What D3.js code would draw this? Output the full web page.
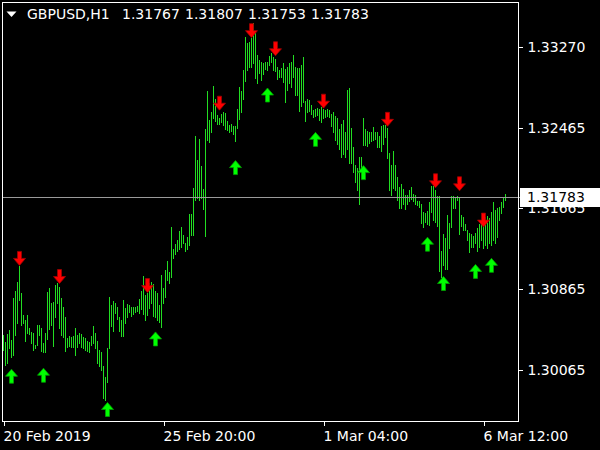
<!DOCTYPE html>
<html><head><meta charset="utf-8">
<script src="https://cdn.jsdelivr.net/npm/d3@7"></script>
<style>html,body{margin:0;padding:0;background:#000;overflow:hidden}</style>
</head><body><svg id="c" width="600" height="450"></svg>
<script>
const symbol = "GBPUSD,H1";
const quote = ["1.31767", "1.31807", "1.31753", "1.31783"];
const lastPrice = 1.31783;
const priceTicks = [1.33270, 1.32465, 1.31665, 1.30865, 1.30065];
const timeTickIdx = [0, 80, 160, 240];
const timeLabels = ["20 Feb 2019", "25 Feb 20:00", "1 Mar 04:00", "6 Mar 12:00"];

const highs = [
1.3041,1.3034,1.3042,1.3046,1.3036,1.3078,1.3085,1.3094,1.3109,1.3083,
1.3061,1.3056,1.3061,1.3048,1.3044,1.3043,1.3031,1.3051,1.3051,1.3048,
1.3033,1.3043,1.3084,1.3088,1.3073,1.3074,1.3091,1.3093,1.3089,1.3078,
1.3069,1.3059,1.3038,1.3040,1.3039,1.3040,1.3048,1.3041,1.3043,1.3042,
1.3039,1.3038,1.3035,1.3034,1.3040,1.3050,1.3043,1.3035,1.3026,1.3024,
1.3010,1.2999,1.3028,1.3079,1.3071,1.3075,1.3073,1.3069,1.3059,1.3056,
1.3076,1.3068,1.3072,1.3071,1.3069,1.3069,1.3069,1.3070,1.3077,1.3085,
1.3099,1.3081,1.3083,1.3093,1.3094,1.3092,1.3085,1.3083,1.3071,1.3100,
1.3088,1.3105,1.3114,1.3103,1.3148,1.3126,1.3131,1.3135,1.3144,1.3148,
1.3140,1.3132,1.3138,1.3161,1.3161,1.3187,1.3238,1.3215,1.3235,1.3209,
1.3186,1.3245,1.3283,1.3254,1.3262,1.3288,1.3275,1.3259,1.3256,1.3260,
1.3262,1.3261,1.3253,1.3249,1.3250,1.3248,1.3248,1.3265,1.3287,1.3283,
1.3304,1.3337,1.3331,1.3332,1.3336,1.3351,1.3341,1.3319,1.3314,1.3312,
1.3311,1.3312,1.3312,1.3318,1.3321,1.3317,1.3315,1.3307,1.3304,1.3306,
1.3311,1.3305,1.3307,1.3311,1.3312,1.3319,1.3307,1.3306,1.3306,1.3309,
1.3317,1.3273,1.3275,1.3274,1.3269,1.3264,1.3265,1.3266,1.3265,1.3267,
1.3265,1.3264,1.3265,1.3264,1.3260,1.3262,1.3258,1.3256,1.3245,1.3250,
1.3254,1.3242,1.3284,1.3286,1.3246,1.3227,1.3210,1.3207,1.3218,1.3218,
1.3256,1.3245,1.3243,1.3242,1.3242,1.3247,1.3242,1.3242,1.3238,1.3248,
1.3249,1.3249,1.3246,1.3222,1.3210,1.3224,1.3210,1.3198,1.3188,1.3191,
1.3186,1.3180,1.3180,1.3185,1.3188,1.3181,1.3180,1.3174,1.3174,1.3171,
1.3163,1.3162,1.3164,1.3173,1.3189,1.3189,1.3185,1.3179,1.3179,1.3124,
1.3141,1.3137,1.3160,1.3152,1.3179,1.3179,1.3178,1.3179,1.3177,1.3160,
1.3158,1.3151,1.3145,1.3142,1.3141,1.3139,1.3142,1.3147,1.3151,1.3153,
1.3154,1.3158,1.3159,1.3157,1.3163,1.3173,1.3165,1.3167,1.3168,1.3173,
1.3178,1.31807];

const lows = [
1.3026,1.3011,1.3013,1.3028,1.3019,1.3021,1.3041,1.3053,1.3076,1.3051,
1.3053,1.3035,1.3043,1.3042,1.3033,1.3026,1.3028,1.3031,1.3041,1.3025,
1.3024,1.3024,1.3037,1.3047,1.3051,1.3030,1.3059,1.3073,1.3048,1.3041,
1.3039,1.3025,1.3029,1.3030,1.3029,1.3029,1.3021,1.3029,1.3033,1.3029,
1.3028,1.3026,1.3025,1.3024,1.3031,1.3033,1.3028,1.3013,1.3010,1.3006,
1.2978,1.2976,1.2994,1.3028,1.3050,1.3045,1.3063,1.3057,1.3045,1.3040,
1.3040,1.3053,1.3059,1.3064,1.3060,1.3062,1.3064,1.3065,1.3063,1.3067,
1.3062,1.3056,1.3061,1.3068,1.3073,1.3060,1.3059,1.3056,1.3054,1.3049,
1.3073,1.3079,1.3096,1.3093,1.3098,1.3117,1.3121,1.3124,1.3126,1.3128,
1.3132,1.3124,1.3126,1.3130,1.3140,1.3140,1.3175,1.3177,1.3175,1.3177,
1.3166,1.3139,1.3234,1.3232,1.3242,1.3256,1.3253,1.3250,1.3250,1.3252,
1.3249,1.3245,1.3244,1.3242,1.3243,1.3240,1.3233,1.3246,1.3255,1.3262,
1.3275,1.3293,1.3304,1.3307,1.3307,1.3311,1.3296,1.3291,1.3301,1.3294,
1.3300,1.3305,1.3304,1.3309,1.3312,1.3304,1.3303,1.3295,1.3297,1.3297,
1.3292,1.3272,1.3284,1.3291,1.3287,1.3297,1.3279,1.3279,1.3263,1.3268,
1.3272,1.3253,1.3262,1.3263,1.3260,1.3257,1.3258,1.3259,1.3254,1.3252,
1.3256,1.3257,1.3258,1.3257,1.3248,1.3242,1.3234,1.3230,1.3225,1.3218,
1.3221,1.3218,1.3225,1.3212,1.3212,1.3203,1.3193,1.3185,1.3171,1.3197,
1.3229,1.3229,1.3228,1.3231,1.3233,1.3234,1.3235,1.3227,1.3227,1.3224,
1.3230,1.3237,1.3217,1.3185,1.3180,1.3187,1.3185,1.3175,1.3167,1.3167,
1.3171,1.3166,1.3171,1.3174,1.3176,1.3174,1.3171,1.3170,1.3168,1.3152,
1.3148,1.3153,1.3151,1.3150,1.3163,1.3155,1.3153,1.3149,1.3104,1.3098,
1.3110,1.3106,1.3106,1.3127,1.3148,1.3167,1.3167,1.3175,1.3141,1.3149,
1.3145,1.3145,1.3135,1.3123,1.3128,1.3128,1.3132,1.3124,1.3128,1.3135,
1.3127,1.3130,1.3127,1.3132,1.3130,1.3135,1.3132,1.3138,1.3155,1.3162,
1.3168,1.31753];

const upIdx   = [4, 20, 52, 76, 116, 132, 156, 180, 212, 220, 236, 244];
const upPrice = [1.3007, 1.3008, 1.2974, 1.3044, 1.3214, 1.3286, 1.3242, 1.3209, 1.3138, 1.3099, 1.3111, 1.3117];
const downIdx   = [8, 28, 72, 108, 124, 136, 160, 192, 216, 228, 240];
const downPrice = [1.3110, 1.3092, 1.3083, 1.3264, 1.3336, 1.3318, 1.3266, 1.3248, 1.3187, 1.3184, 1.3148];

const W = 600, H = 450;
const frame = {l: 2.5, t: 2.5, r: 518.5, b: 421.5};
const FONT = "'DejaVu Sans', sans-serif";
const svg = d3.select("#c");
svg.append("rect").attr("width", W).attr("height", H).attr("fill", "#000");

const x = d3.scaleLinear().domain([0, highs.length - 1]).range([3.5, 3.5 + 2 * (highs.length - 1)]);
const y = d3.scaleLinear().domain([1.30065, 1.33270]).range([369.7, 46.7]);

// bars
svg.append("g").attr("shape-rendering", "crispEdges")
  .selectAll("line").data(highs).join("line")
  .attr("x1", (d, i) => x(i)).attr("x2", (d, i) => x(i))
  .attr("y1", d => y(d)).attr("y2", (d, i) => y(lows[i]) + 1)
  .attr("stroke", "#22dd22").attr("stroke-width", 1);

// current price line
const ly = Math.round(y(lastPrice)) + 0.5;
svg.append("line").attr("x1", 3).attr("x2", 520).attr("y1", ly).attr("y2", ly)
  .attr("stroke", "#9a9a9a").attr("stroke-width", 1).attr("shape-rendering", "crispEdges");

// arrows
const upPath = "M0,0 L6,7 L2,7 L2,14 L-2,14 L-2,7 L-6,7 Z";
const downPath = "M0,0 L6,-7 L2,-7 L2,-14 L-2,-14 L-2,-7 L-6,-7 Z";
svg.append("g").selectAll("path").data(upIdx).join("path")
  .attr("d", upPath)
  .attr("transform", (d, k) => `translate(${x(d)},${y(upPrice[k])})`)
  .attr("fill", "#00ff00").attr("stroke", "#00a000").attr("stroke-width", 0.8);
svg.append("g").selectAll("path").data(downIdx).join("path")
  .attr("d", downPath)
  .attr("transform", (d, k) => `translate(${x(d)},${y(downPrice[k])})`)
  .attr("fill", "#ff0000").attr("stroke", "#a00000").attr("stroke-width", 0.8);

// frame
svg.append("rect").attr("x", frame.l).attr("y", frame.t)
  .attr("width", frame.r - frame.l).attr("height", frame.b - frame.t)
  .attr("fill", "none").attr("stroke", "#fff").attr("shape-rendering", "crispEdges");

// y axis
const yAxis = d3.axisRight(y).tickValues(priceTicks).tickFormat(d3.format(".5f")).tickSize(4).tickPadding(5);
const gy = svg.append("g").attr("transform", `translate(${frame.r},0)`).call(yAxis);
gy.select(".domain").remove();
gy.selectAll("line").attr("stroke", "#fff").attr("shape-rendering", "crispEdges");
gy.selectAll("text").attr("fill", "#fff").style("font-family", FONT).style("font-size", "14px");

// x axis
const xAxis = d3.axisBottom(x).tickValues(timeTickIdx).tickFormat((d, i) => timeLabels[i]).tickSize(4).tickPadding(6);
const gx = svg.append("g").attr("transform", `translate(0,${frame.b})`).call(xAxis);
gx.select(".domain").remove();
gx.selectAll("line").attr("stroke", "#fff").attr("shape-rendering", "crispEdges");
gx.selectAll("text").attr("fill", "#fff").attr("text-anchor", "start").attr("dx", -0.5)
  .style("font-family", FONT).style("font-size", "14px");

// price label box
svg.append("rect").attr("x", 520).attr("y", 188).attr("width", 80).attr("height", 19).attr("fill", "#fff");
svg.append("text").attr("x", 527).attr("y", ly).attr("dy", "0.35em").attr("fill", "#000")
  .style("font-family", FONT).style("font-size", "14px").text(d3.format(".5f")(lastPrice));

// title
svg.append("path").attr("d", "M6.5,11.5 L16.5,11.5 L11.5,17 Z").attr("fill", "#fff");
svg.append("text").attr("x", 27).attr("y", 19).attr("fill", "#fff")
  .style("font-family", FONT).style("font-size", "14px").text(symbol);
svg.append("g").selectAll("text").data(quote).join("text")
  .attr("x", (d, k) => 122 + k * 63).attr("y", 19).attr("fill", "#fff")
  .style("font-family", FONT).style("font-size", "14px").text(d => d);
</script></body></html>
